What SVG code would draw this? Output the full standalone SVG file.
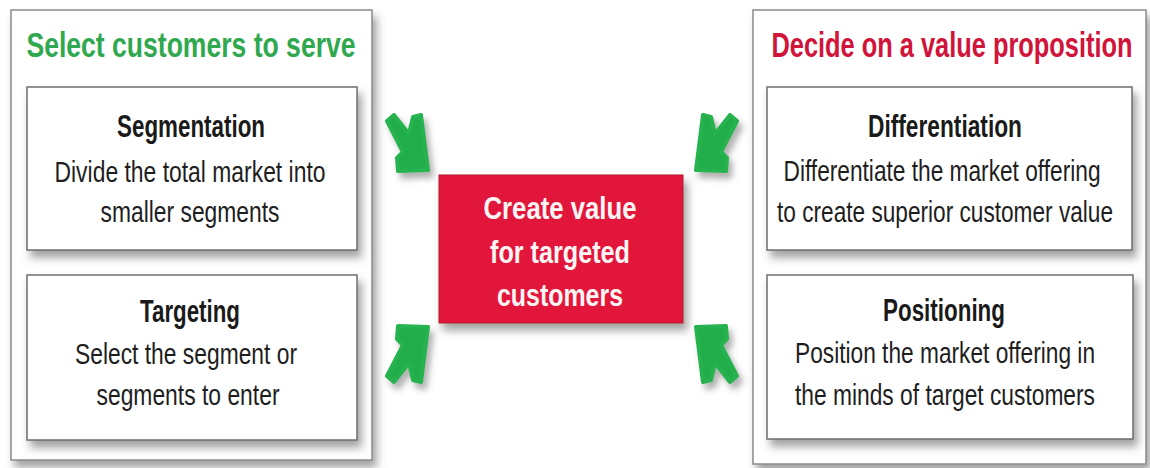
<svg xmlns="http://www.w3.org/2000/svg" width="1150" height="468" viewBox="0 0 1150 468">
<style>
.outer{fill:#ffffff;stroke:#8a8a8a;stroke-width:1.5}
.inner{fill:#ffffff;stroke:#6e6e6e;stroke-width:1.5}
.t{font-family:"Liberation Sans Narrow","Liberation Sans",Arial,sans-serif;text-anchor:middle}
.h{font-size:25.7px;font-weight:bold}
.bt{font-size:24px;font-weight:bold;fill:#1a1a1a}
.bd{font-size:23px;fill:#1e1e1e}
.ct{font-size:24.6px;font-weight:bold;fill:#fff4f4}
.arrow{fill:#22ad4b;stroke:#27b350;stroke-width:4;stroke-linejoin:round}
</style>
<defs>
<filter id="sh" x="-10%" y="-10%" width="130%" height="135%">
<feDropShadow dx="4" dy="7" stdDeviation="4" flood-color="#555" flood-opacity="0.55"/>
</filter>
<filter id="sha" x="-30%" y="-30%" width="170%" height="170%">
<feDropShadow dx="4" dy="6" stdDeviation="3" flood-color="#555" flood-opacity="0.45"/>
</filter>
<path id="arr" d="M387,121 L394,115 L409,134 L413,117 L421,115 L428,170 L398,171 L397,158 L403,152 Z"/>
</defs>
<rect width="1150" height="468" fill="#ffffff"/>

<g id="left-group">
<rect class="outer" x="11" y="10" width="361" height="450" filter="url(#sh)"/>
<text class="t h" transform="translate(191,57) scale(1,1.4)" fill="#2fa84f" textLength="329" lengthAdjust="spacingAndGlyphs">Select customers to serve</text>
</g>
<g id="right-group">
<rect class="outer" x="753" y="10" width="393" height="454" filter="url(#sh)"/>
<text class="t h" transform="translate(952,57) scale(1,1.4)" fill="#d0143a" textLength="361" lengthAdjust="spacingAndGlyphs">Decide on a value proposition</text>
</g>

<g id="segmentation">
<rect class="inner" x="27" y="87" width="330" height="163" filter="url(#sh)"/>
<text class="t bt" transform="translate(191,137) scale(1,1.33)" textLength="148" lengthAdjust="spacingAndGlyphs">Segmentation</text>
<text class="t bd" transform="translate(190,182) scale(1,1.3)" textLength="271" lengthAdjust="spacingAndGlyphs">Divide the total market into</text>
<text class="t bd" transform="translate(190,222) scale(1,1.3)" textLength="179" lengthAdjust="spacingAndGlyphs">smaller segments</text>
</g>
<g id="targeting">
<rect class="inner" x="27" y="275" width="330" height="165" filter="url(#sh)"/>
<text class="t bt" transform="translate(190,322) scale(1,1.33)" textLength="100" lengthAdjust="spacingAndGlyphs">Targeting</text>
<text class="t bd" transform="translate(186,364) scale(1,1.3)" textLength="222" lengthAdjust="spacingAndGlyphs">Select the segment or</text>
<text class="t bd" transform="translate(188,405) scale(1,1.3)" textLength="183" lengthAdjust="spacingAndGlyphs">segments to enter</text>
</g>
<g id="differentiation">
<rect class="inner" x="767" y="87" width="365" height="163" filter="url(#sh)"/>
<text class="t bt" transform="translate(945,137) scale(1,1.33)" textLength="154" lengthAdjust="spacingAndGlyphs">Differentiation</text>
<text class="t bd" transform="translate(942,181) scale(1,1.3)" textLength="317" lengthAdjust="spacingAndGlyphs">Differentiate the market offering</text>
<text class="t bd" transform="translate(945,222) scale(1,1.3)" textLength="336" lengthAdjust="spacingAndGlyphs">to create superior customer value</text>
</g>
<g id="positioning">
<rect class="inner" x="767" y="275" width="366" height="164" filter="url(#sh)"/>
<text class="t bt" transform="translate(944,321) scale(1,1.33)" textLength="122" lengthAdjust="spacingAndGlyphs">Positioning</text>
<text class="t bd" transform="translate(945,363) scale(1,1.3)" textLength="300" lengthAdjust="spacingAndGlyphs">Position the market offering in</text>
<text class="t bd" transform="translate(945,405) scale(1,1.3)" textLength="300" lengthAdjust="spacingAndGlyphs">the minds of target customers</text>
</g>
<g id="center">
<rect x="439" y="175" width="244" height="148" fill="#e2183a" stroke="#b5102c" stroke-width="1" filter="url(#sh)"/>
<text class="t ct" transform="translate(560,219) scale(1,1.3)" textLength="153" lengthAdjust="spacingAndGlyphs">Create value</text>
<text class="t ct" transform="translate(560,263) scale(1,1.3)" textLength="140" lengthAdjust="spacingAndGlyphs">for targeted</text>
<text class="t ct" transform="translate(560,306) scale(1,1.3)" textLength="126" lengthAdjust="spacingAndGlyphs">customers</text>
</g>

<g id="connectors" filter="url(#sha)">
<use href="#arr" class="arrow"/>
<use href="#arr" class="arrow" transform="translate(1124,0) scale(-1,1)"/>
<use href="#arr" class="arrow" transform="translate(0,497) scale(1,-1)"/>
<use href="#arr" class="arrow" transform="translate(1124,497) scale(-1,-1)"/>
</g>
</svg>
